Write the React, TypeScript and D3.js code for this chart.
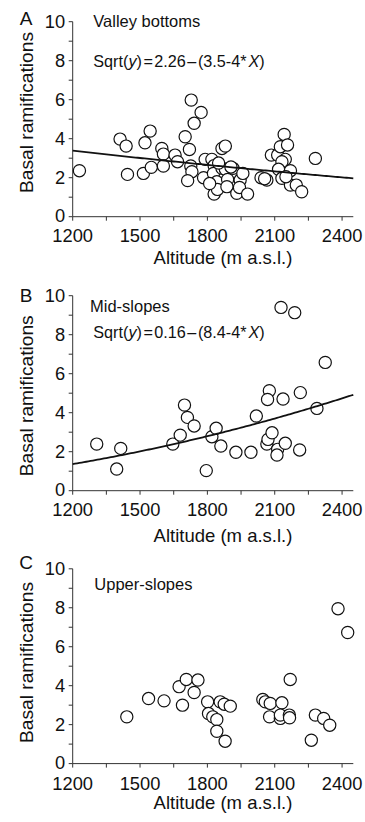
import React from "react";
import * as d3 from "d3";

// ---------- data ----------
const altTicks = [1200, 1500, 1800, 2100, 2400];
const basalTicks = [0, 2, 4, 6, 8, 10];

const altA = [1230, 1411, 1438, 1444, 1515, 1522, 1545, 1550, 1597, 1604, 1604, 1656, 1667, 1701, 1720, 1728, 1772, 1741, 1726, 1731, 1712, 1783, 1790, 1820, 1830, 1827, 1842, 1830, 1845, 1865, 1880, 1865, 1880, 1890, 1887, 1914, 1931, 1946, 1943, 1958, 1979, 1905, 1850, 1810, 2039, 2065, 2085, 2113, 2125, 2142, 2157, 2147, 2132, 2117, 2132, 2170, 2170, 2196, 2220, 2281, 2055, 2150];
const basA = [2.36, 3.98, 3.62, 2.17, 2.22, 3.79, 4.39, 2.53, 3.5, 3.21, 2.6, 3.16, 2.82, 4.1, 3.45, 5.98, 5.35, 4.79, 2.6, 2.31, 1.85, 2.0, 2.94, 2.94, 2.62, 2.22, 1.79, 1.16, 1.4, 3.5, 3.62, 2.48, 2.43, 1.91, 1.54, 2.48, 1.2, 1.88, 1.5, 2.22, 1.16, 2.55, 2.75, 1.7, 2.0, 1.88, 3.16, 3.16, 3.59, 4.22, 3.68, 2.94, 2.82, 2.43, 1.97, 2.36, 1.62, 1.62, 1.28, 2.99, 1.95, 2.05];

const altB = [1307, 1396, 1414, 1646, 1679, 1698, 1711, 1741, 1795, 1820, 1839, 1860, 1927, 1994, 2018, 2065, 2070, 2088, 2076, 2068, 2128, 2189, 2113, 2110, 2137, 2147, 2214, 2211, 2288, 2325];
const basB = [2.39, 1.11, 2.17, 2.39, 2.85, 4.39, 3.76, 3.32, 1.03, 2.77, 3.2, 2.29, 1.97, 1.97, 3.83, 2.39, 2.63, 2.97, 5.13, 4.68, 9.4, 9.13, 2.12, 1.83, 4.7, 2.43, 5.03, 2.09, 4.22, 6.58];

const altC = [1441, 1538, 1607, 1674, 1689, 1706, 1741, 1758, 1801, 1805, 1824, 1842, 1857, 1875, 1902, 1842, 1879, 2047, 2058, 2080, 2077, 2132, 2125, 2125, 2165, 2169, 2166, 2263, 2281, 2318, 2345, 2382, 2425];
const basC = [2.4, 3.34, 3.22, 3.95, 3.0, 4.32, 3.65, 4.29, 3.17, 2.57, 2.4, 2.26, 3.17, 3.05, 2.95, 1.66, 1.15, 3.29, 3.17, 3.09, 2.4, 3.12, 2.32, 2.49, 2.49, 4.32, 2.35, 1.2, 2.49, 2.32, 1.97, 7.95, 6.73];

// fitted model: sqrt(y) = a + b * X
const fitA = [2.26, -3.5e-4];
const fitB = [0.16, 8.4e-4];

const panelLetters = ["A", "B", "C"];
const panelTitles = ["Valley bottoms", "Mid-slopes", "Upper-slopes"];
const eqConst = ["2.26", "0.16", null];
const eqSlope = ["3.5", "8.4", null];

// ---------- layout ----------
const FONT = "'Liberation Sans', Arial, Helvetica, sans-serif";
const X0 = 72.7;
const X1 = 353.3;
const layouts = [
  { top: 21.7, bottom: 216.7, letterY: 25, titleX: 93.3, titleY: 27.3, eqY: 66.7, tickY: 241.8, xTitleY: 263.5, yTitleC: 112.5 },
  { top: 295.7, bottom: 490.7, letterY: 301.7, titleX: 90, titleY: 311.7, eqY: 337.5, tickY: 516, xTitleY: 541.5, yTitleC: 395.8 },
  { top: 568.8, bottom: 763.6, letterY: 569.3, titleX: 94.3, titleY: 590.3, eqY: 0, tickY: 789.5, xTitleY: 809, yTitleC: 662.5 },
];

const x = d3.scaleLinear().domain([1200, 2450]).range([X0, X1]);

function Panel({ i }: { i: number }) {
  const L = layouts[i];
  const alt = [altA, altB, altC][i];
  const val = [basA, basB, basC][i];
  const fit = [fitA, fitB, null][i];
  const y = d3.scaleLinear().domain([0, 10]).range([L.bottom, L.top]);
  const minorX = d3.range(1200, 2451, 150);
  const minorY = d3.range(0, 10.001, 1);
  const axisColor = "#333";
  let linePath: string | null = null;
  if (fit) {
    const xs = d3.range(1200, 2451, 10);
    linePath = d3
      .line<number>()
      .x((d) => x(d))
      .y((d) => y(Math.pow(fit[0] + fit[1] * d, 2)))(xs);
  }
  return (
    <g>
      {/* axes */}
      <line x1={X0} x2={X1} y1={L.bottom} y2={L.bottom} stroke={axisColor} strokeWidth={1} />
      <line x1={X0} x2={X0} y1={L.bottom} y2={L.top} stroke={axisColor} strokeWidth={1} />
      {minorX.map((t) => (
        <line key={"mx" + t} x1={x(t)} x2={x(t)} y1={L.bottom} y2={L.bottom + 4} stroke={axisColor} strokeWidth={1} />
      ))}
      {minorY.map((t) => (
        <line key={"my" + t} x1={X0 - 4} x2={X0} y1={y(t)} y2={y(t)} stroke={axisColor} strokeWidth={1} />
      ))}
      {altTicks.map((t) => (
        <text key={"xt" + t} x={x(t)} y={L.tickY} textAnchor="middle" fontSize={18.3} fontFamily={FONT} fill="#111">
          {t}
        </text>
      ))}
      {basalTicks.map((t) => (
        <text key={"yt" + t} x={X0 - 7.5} y={y(t) - (t === 0 ? 1 : 0)} dy="0.35em" textAnchor="end" fontSize={18.3} fontFamily={FONT} fill="#111">
          {t}
        </text>
      ))}
      <text x={223} y={L.xTitleY} textAnchor="middle" fontSize={18.5} fontFamily={FONT} fill="#111">
        Altitude (m a.s.l.)
      </text>
      <text
        transform={`translate(33,${L.yTitleC}) rotate(-90)`}
        textAnchor="middle"
        fontSize={19.2}
        fontFamily={FONT}
        fill="#111"
      >
        Basal ramifications
      </text>
      <text x={26} y={L.letterY} textAnchor="middle" fontSize={19} fontFamily={FONT} fill="#111">
        {panelLetters[i]}
      </text>
      <text x={L.titleX} y={L.titleY} fontSize={16.5} fontFamily={FONT} fill="#111">
        {panelTitles[i]}
      </text>
      {eqConst[i] && (
        <text x={93.3} y={L.eqY} fontSize={16.2} fontFamily={FONT} fill="#111">
          Sqrt(<tspan fontStyle="italic">y</tspan>)<tspan dx={1.5}>=</tspan>
          <tspan dx={1.5}>{eqConst[i]}</tspan>
          <tspan dx={1.5}>–</tspan>
          <tspan dx={1.5}>({eqSlope[i]}-4*</tspan>
          <tspan dx={2} fontStyle="italic">X</tspan>)
        </text>
      )}
      {/* points */}
      {alt.map((a, k) => (
        <circle key={"p" + k} cx={x(a)} cy={y(val[k])} r={6.1} fill="#fff" stroke="#111" strokeWidth={1.2} />
      ))}
      {linePath && <path d={linePath} fill="none" stroke="#111" strokeWidth={1.8} />}
    </g>
  );
}

export default function App() {
  return (
    <svg
      width={365}
      height={822}
      style={{ position: "absolute", left: 0, top: 0, background: "#fff" }}
    >
      <rect width={365} height={822} fill="#fff" />
      {[0, 1, 2].map((i) => (
        <Panel key={i} i={i} />
      ))}
    </svg>
  );
}
